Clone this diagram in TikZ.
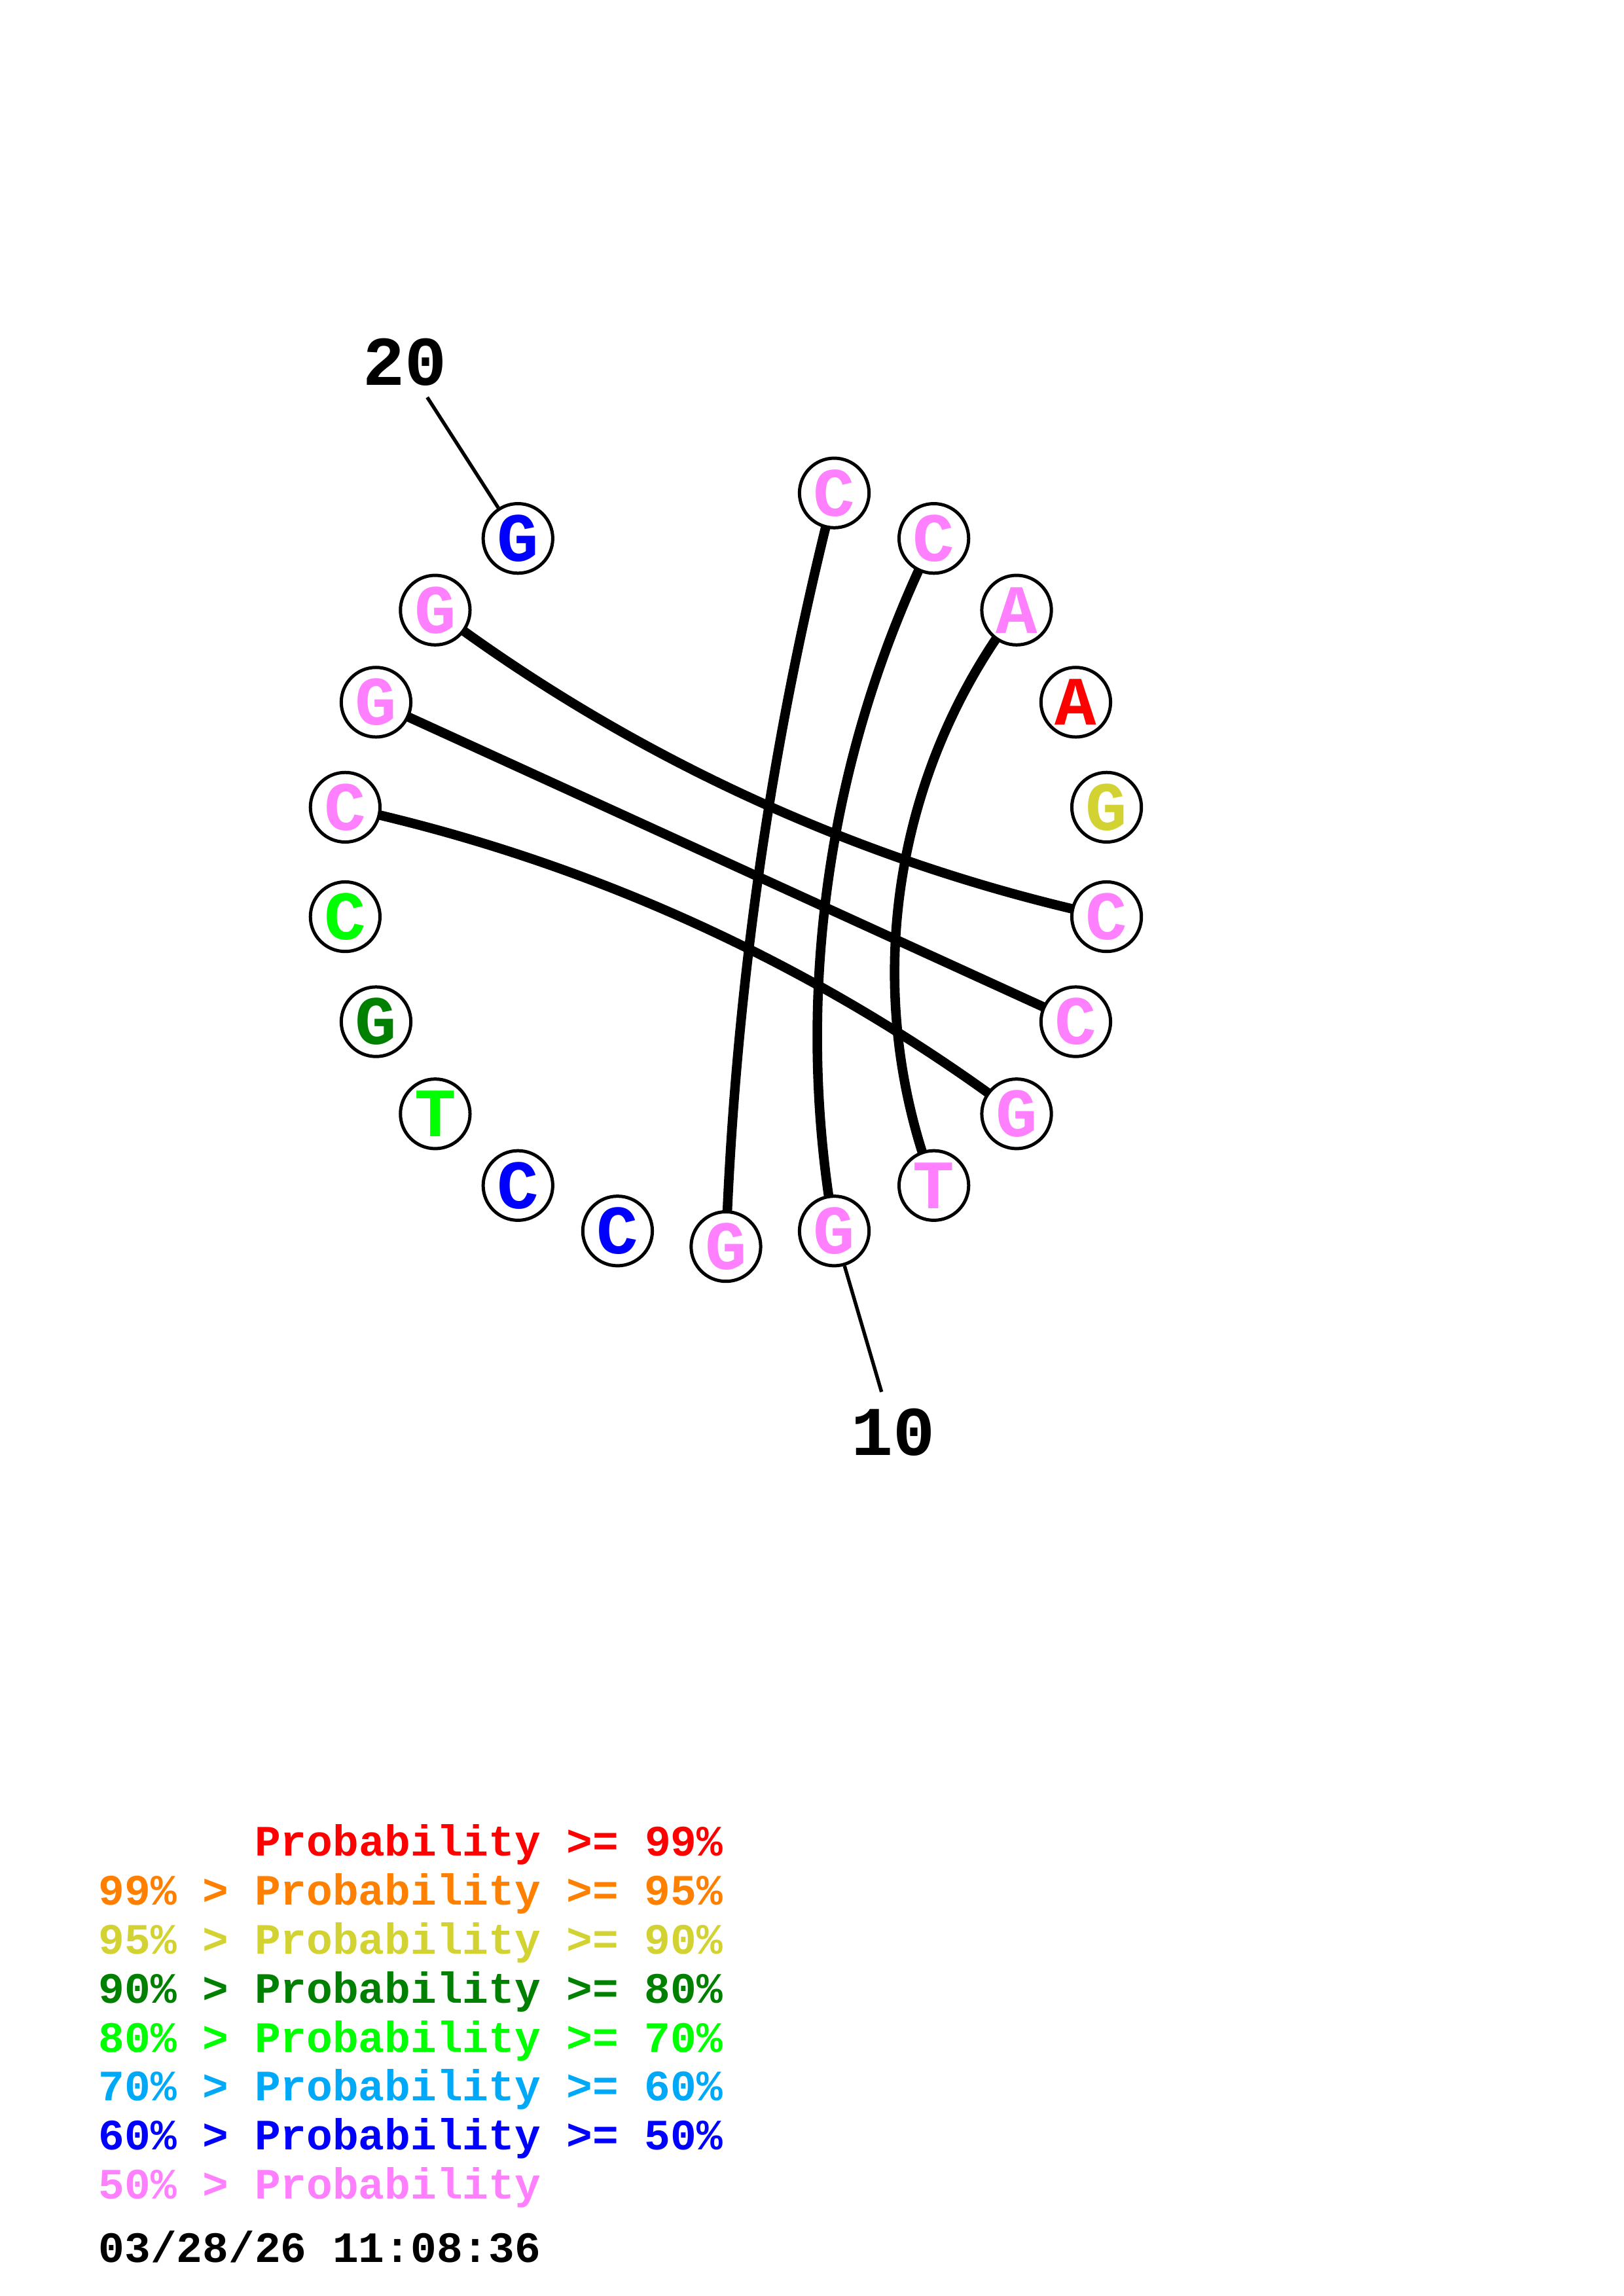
\documentclass[tikz,border=0pt]{standalone}
\usepackage{fontspec}
\usepackage{xcolor}
\usepackage{tikz}
\usetikzlibrary{calc,backgrounds}
\newfontfamily\cour{Liberation Mono}
\definecolor{pp99}{HTML}{FF0000}
\definecolor{pp95}{HTML}{FF8000}
\definecolor{pp90}{HTML}{D2D232}
\definecolor{pp80}{HTML}{008000}
\definecolor{pp70}{HTML}{00FF00}
\definecolor{pp60}{HTML}{00A8F8}
\definecolor{pp50}{HTML}{0000FF}
\definecolor{pplow}{HTML}{FF80FF}
\tikzset{
  base/.style={circle, draw=black, line width=1.2pt, fill=white, minimum size=0.9cm, inner sep=0pt,
    font=\cour\bfseries\fontsize{25.5}{25.5}\selectfont},
  pair/.style={draw=black, line width=3.5pt},
  tick/.style={draw=black, line width=1.3pt},
  num/.style={inner sep=0pt, font=\cour\bfseries\fontsize{25.7}{25.7}\selectfont},
  key/.style={anchor=base west, inner sep=0pt, font=\cour\bfseries\fontsize{15.95}{15.95}\selectfont},
}

\begin{document}
\begin{tikzpicture}
  \useasboundingbox (-9.389,11.150) rectangle (11.611,-18.550);
  \def\r{4.975}
  \def\s{16.3636}
  \coordinate (O) at (0,0);
  % bases, clockwise from the top
  \node[base,text=pplow] (n1)  at ({90-1*\s}:\r)  {C};
  \node[base,text=pplow] (n2)  at ({90-2*\s}:\r)  {C};
  \node[base,text=pplow] (n3)  at ({90-3*\s}:\r)  {A};
  \node[base,text=pp99]  (n4)  at ({90-4*\s}:\r)  {A};
  \node[base,text=pp90]  (n5)  at ({90-5*\s}:\r)  {G};
  \node[base,text=pplow] (n6)  at ({90-6*\s}:\r)  {C};
  \node[base,text=pplow] (n7)  at ({90-7*\s}:\r)  {C};
  \node[base,text=pplow] (n8)  at ({90-8*\s}:\r)  {G};
  \node[base,text=pplow] (n9)  at ({90-9*\s}:\r)  {T};
  \node[base,text=pplow] (n10) at ({90-10*\s}:\r) {G};
  \node[base,text=pplow] (n11) at ({90-11*\s}:\r) {G};
  \node[base,text=pp50]  (n12) at ({90-12*\s}:\r) {C};
  \node[base,text=pp50]  (n13) at ({90-13*\s}:\r) {C};
  \node[base,text=pp70]  (n14) at ({90-14*\s}:\r) {T};
  \node[base,text=pp80]  (n15) at ({90-15*\s}:\r) {G};
  \node[base,text=pp70]  (n16) at ({90-16*\s}:\r) {C};
  \node[base,text=pplow] (n17) at ({90-17*\s}:\r) {C};
  \node[base,text=pplow] (n18) at ({90-18*\s}:\r) {G};
  \node[base,text=pplow] (n19) at ({90-19*\s}:\r) {G};
  \node[base,text=pp50]  (n20) at ({90-20*\s}:\r) {G};
  % pairs, arcs bowing towards the middle
  \begin{scope}[on background layer]
    \draw[pair] (n1.center)  to[bend right=6.2,looseness=0.854]  (n11.center);
    \draw[pair] (n2.center)  to[bend right=18.2,looseness=0.873] (n10.center);
    \draw[pair] (n3.center)  to[bend right=29.1,looseness=0.909] (n9.center);
    \draw[pair] (n19.center) to[bend right=12.3,looseness=0.861] (n6.center);
    \draw[pair] (n18.center) -- (n7.center);
    \draw[pair] (n17.center) to[bend left=12.3,looseness=0.861]  (n8.center);
  \end{scope}
  % numbering
  \coordinate (t10) at ({90-10*\s}:7.145);
  \coordinate (t20) at ({90-20*\s}:7.145);
  \draw[tick] (n10) -- (t10);
  \draw[tick] (n20) -- (t20);
  \node[num] (l10) at ({90-10*\s}:7.685) {10};
  \node[num] (l20) at ({90-20*\s}:7.685) {20};
  % key
  \node[key,text=pp99]  (k99)  at (-8.120,-12.852) {\phantom{99\% >} Probability >= 99\%};
  \node[key,text=pp95]  (k95)  at (-8.120,-13.487) {99\% > Probability >= 95\%};
  \node[key,text=pp90]  (k90)  at (-8.120,-14.122) {95\% > Probability >= 90\%};
  \node[key,text=pp80]  (k80)  at (-8.120,-14.757) {90\% > Probability >= 80\%};
  \node[key,text=pp70]  (k70)  at (-8.120,-15.392) {80\% > Probability >= 70\%};
  \node[key,text=pp60]  (k60)  at (-8.120,-16.026) {70\% > Probability >= 60\%};
  \node[key,text=pp50]  (k50)  at (-8.120,-16.661) {60\% > Probability >= 50\%};
  \node[key,text=pplow] (klow) at (-8.120,-17.296) {50\% > Probability};
  \node[key] (stamp) at (-8.120,-18.117) {03/28/26 11:08:36};
\end{tikzpicture}
\end{document}
